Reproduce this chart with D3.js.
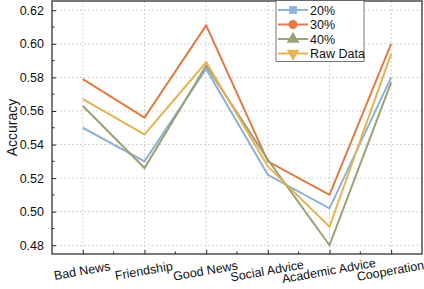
<!DOCTYPE html>
<html>
<head>
<script src="https://d3js.org/d3.v7.min.js"></script>
<style>
  body { margin: 0; background: #fff; }
  svg { font-family: "Liberation Sans", Arial, sans-serif; }
  .grid line { stroke: #c8c8c8; stroke-dasharray: 2,2; stroke-width: 0.8px; }
  .series path { fill: none; stroke-width: 2px; }
</style>
</head>
<body>
<script>
// chart data
var categories = ["Bad News", "Friendship", "Good News", "Social Advice", "Academic Advice", "Cooperation"];
var seriesNames = ["20%", "30%", "40%", "Raw Data"];
var acc20  = [0.550, 0.530, 0.585, 0.522, 0.502, 0.580];
var acc30  = [0.579, 0.556, 0.611, 0.530, 0.510, 0.600];
var acc40  = [0.563, 0.526, 0.587, 0.531, 0.480, 0.577];
var accRaw = [0.567, 0.546, 0.589, 0.527, 0.491, 0.594];
var yTicks = [0.48, 0.50, 0.52, 0.54, 0.56, 0.58, 0.60, 0.62];

var colors = ["#8db3d8", "#e07b44", "#99a276", "#e6b353"];
var symbols = [d3.symbolSquare, d3.symbolCircle, d3.symbolTriangle, d3.symbolTriangle];
var symSize = [60, 64, 70, 70];
var symRot  = [0, 0, 0, 180];

var series = [acc20, acc30, acc40, accRaw].map(function(v, i) {
  return { name: seriesNames[i], values: v, color: colors[i] };
});

var W = 424, H = 289;
var margin = {top: 1, right: 2, bottom: 35, left: 52};
var width = W - margin.left - margin.right,
    height = H - margin.top - margin.bottom;

var svg = d3.select("body").append("svg")
    .attr("width", W).attr("height", H);
var g = svg.append("g")
    .attr("transform", "translate(" + margin.left + "," + margin.top + ")");

var x = d3.scalePoint().domain(categories).range([0, width]).padding(0.5);
var y = d3.scaleLinear().domain([0.4748, 0.6255]).range([height, 0]);

// grid
var grid = g.append("g").attr("class", "grid");
grid.selectAll(".gy").data(yTicks).enter().append("line")
    .attr("x1", 0).attr("x2", width)
    .attr("y1", function(d) { return y(d); }).attr("y2", function(d) { return y(d); });
grid.selectAll(".gx").data(categories).enter().append("line")
    .attr("y1", 0).attr("y2", height)
    .attr("x1", function(d) { return x(d); }).attr("x2", function(d) { return x(d); });

// axes with inward ticks
var yAxis = d3.axisLeft(y).tickValues(yTicks).tickFormat(d3.format(".2f"))
    .tickSizeInner(-4).tickSizeOuter(0).tickPadding(8);
var ya = g.append("g").call(yAxis);
ya.select(".domain").remove();
ya.selectAll("text").attr("font-size", 12.5).attr("fill", "#111");
ya.selectAll("line").attr("stroke", "#222");

var minorY = d3.range(0.49, 0.625, 0.02);
g.append("g").selectAll("line").data(minorY).enter().append("line")
    .attr("x1", 0).attr("x2", 2.5)
    .attr("y1", function(d) { return y(d); }).attr("y2", function(d) { return y(d); })
    .attr("stroke", "#222");

var xAxis = d3.axisBottom(x).tickSizeInner(-4).tickSizeOuter(0).tickFormat("");
var xa = g.append("g").attr("transform", "translate(0," + height + ")").call(xAxis);
xa.select(".domain").remove();
xa.selectAll("line").attr("stroke", "#222");

var step = x.step();
g.append("g").selectAll("line").data(categories.slice(1)).enter().append("line")
    .attr("x1", function(d) { return x(d) - step / 2; })
    .attr("x2", function(d) { return x(d) - step / 2; })
    .attr("y1", height).attr("y2", height - 2.5)
    .attr("stroke", "#222");

g.append("g").selectAll("text").data(categories).enter().append("text")
    .attr("transform", function(d) { return "translate(" + x(d) + "," + (height + 21) + ") rotate(-10)"; })
    .attr("text-anchor", "middle")
    .attr("font-size", 12.5)
    .attr("fill", "#111")
    .text(function(d) { return d; });

// frame
g.append("rect").attr("width", width).attr("height", height)
    .attr("fill", "none").attr("stroke", "#333").attr("stroke-width", 1.3);

// y label
svg.append("text")
    .attr("transform", "translate(17," + (margin.top + height / 2) + ") rotate(-90)")
    .attr("text-anchor", "middle")
    .attr("font-size", 14)
    .attr("fill", "#111")
    .text("Accuracy");

// lines and markers
var line = d3.line()
    .x(function(d, i) { return x(categories[i]); })
    .y(function(d) { return y(d); });

series.forEach(function(s, si) {
  var sg = g.append("g").attr("class", "series");
  sg.append("path").attr("d", line(s.values)).attr("stroke", s.color);
  sg.selectAll("path.m").data(s.values).enter().append("path")
    .attr("class", "m")
    .attr("d", d3.symbol().type(symbols[si]).size(symSize[si]))
    .attr("transform", function(d, i) {
      return "translate(" + x(categories[i]) + "," + y(d) + ") rotate(" + symRot[si] + ")";
    })
    .attr("fill", s.color).attr("stroke", "none");
});

// legend
var lg = svg.append("g").attr("transform", "translate(276,0)");
lg.append("rect").attr("x", 0).attr("y", 0.5).attr("width", 88).attr("height", 61)
    .attr("fill", "#fff").attr("stroke", "#555").attr("stroke-width", 0.8);
series.forEach(function(s, si) {
  var yy = 10 + si * 14.5;
  lg.append("line").attr("x1", 2).attr("x2", 32).attr("y1", yy).attr("y2", yy)
    .attr("stroke", s.color).attr("stroke-width", 2);
  lg.append("path")
    .attr("d", d3.symbol().type(symbols[si]).size(symSize[si]))
    .attr("transform", "translate(17," + yy + ") rotate(" + symRot[si] + ")")
    .attr("fill", s.color);
  lg.append("text").attr("x", 34).attr("y", yy + 4.5)
    .attr("font-size", 12.5).attr("fill", "#111").text(s.name);
});
</script>
</body>
</html>
